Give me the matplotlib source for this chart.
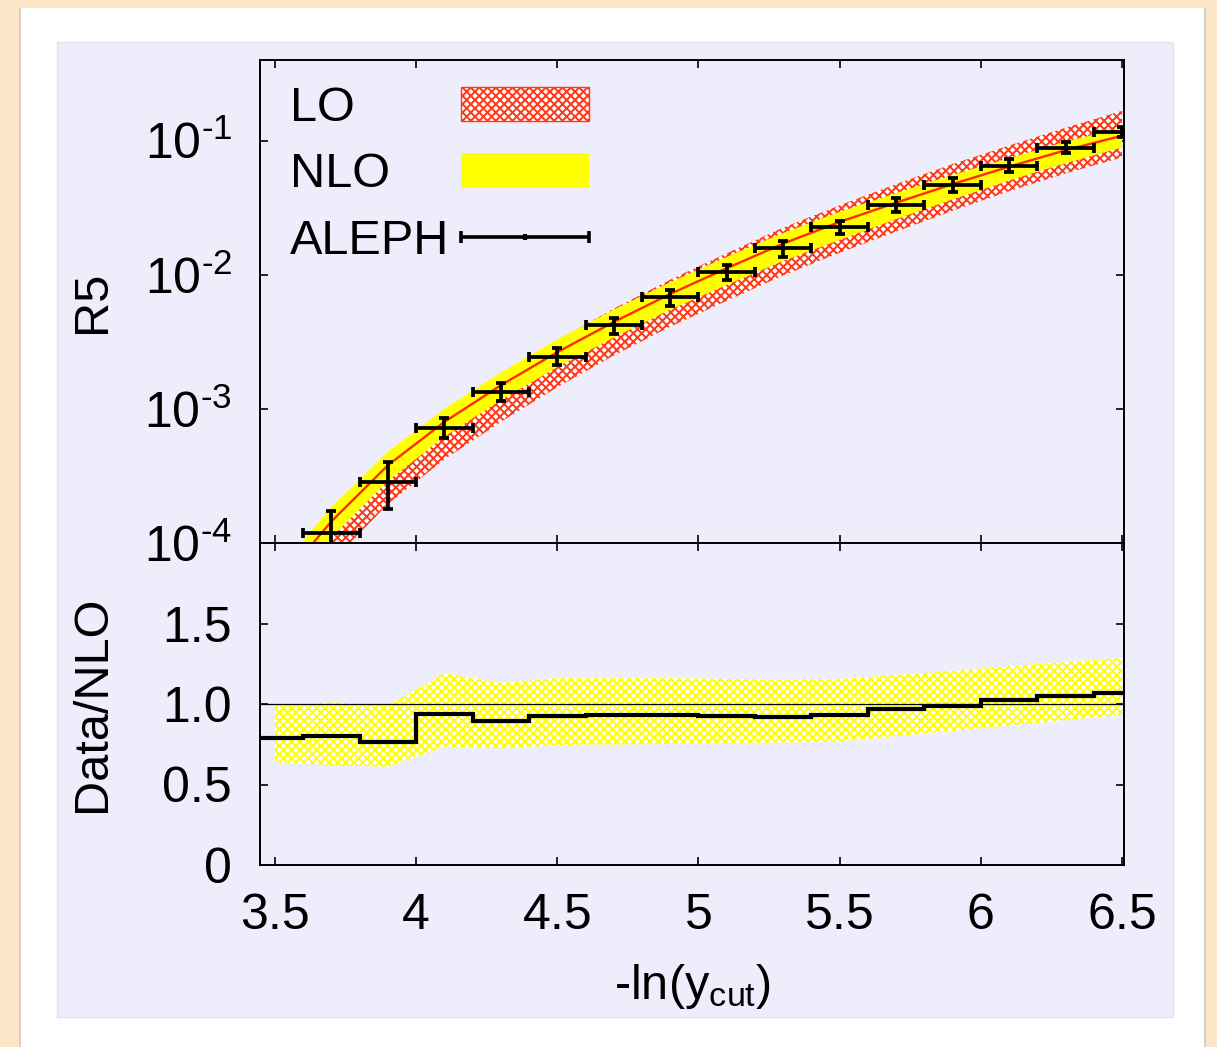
import numpy as np
import matplotlib
matplotlib.use("Agg")
import matplotlib.pyplot as plt
from matplotlib.patches import Rectangle
from matplotlib.ticker import NullLocator

plt.rcParams['font.family'] = ['Liberation Sans', 'DejaVu Sans']
plt.rcParams['mathtext.fontset'] = 'custom'
plt.rcParams['mathtext.rm'] = 'Liberation Sans'
plt.rcParams['mathtext.it'] = 'Liberation Sans:italic'
plt.rcParams['mathtext.bf'] = 'Liberation Sans:bold'
plt.rcParams['hatch.linewidth'] = 1.45

# ---- theory curves on a -ln(ycut) grid ----
x_theory = [3.5, 3.7, 3.9, 4.1, 4.3, 4.5, 4.7, 4.9, 5.1, 5.3, 5.5, 5.7, 5.9, 6.1, 6.3, 6.5]
nlo_central = [4.6e-5, 1.45e-4, 3.8e-4, 8.0e-4, 1.5e-3, 2.65e-3, 4.45e-3, 7.2e-3,
               1.12e-2, 1.71e-2, 2.48e-2, 3.45e-2, 4.75e-2, 6.4e-2, 8.5e-2, 0.109]
nlo_upper = [5.9e-5, 1.85e-4, 4.8e-4, 1.0e-3, 1.87e-3, 3.3e-3, 5.5e-3, 8.8e-3,
             1.36e-2, 2.05e-2, 2.95e-2, 4.07e-2, 5.56e-2, 7.42e-2, 9.86e-2, 0.125]
nlo_lower = [3.5e-5, 1.1e-4, 2.9e-4, 6.2e-4, 1.16e-3, 2.05e-3, 3.4e-3, 5.5e-3,
             8.4e-3, 1.27e-2, 1.82e-2, 2.6e-2, 3.65e-2, 5.05e-2, 6.8e-2, 8.9e-2]
lo_upper = [5.5e-5, 1.7e-4, 4.5e-4, 9.5e-4, 1.8e-3, 3.25e-3, 5.6e-3, 9.2e-3,
            1.45e-2, 2.25e-2, 3.3e-2, 4.75e-2, 6.7e-2, 9.2e-2, 0.125, 0.167]
lo_lower = [2.2e-5, 7.2e-5, 1.95e-4, 4.2e-4, 8.0e-4, 1.45e-3, 2.5e-3, 4.1e-3,
            6.4e-3, 9.9e-3, 1.46e-2, 2.1e-2, 3.0e-2, 4.2e-2, 5.7e-2, 7.5e-2]

# ---- ALEPH five-jet rate ----
x_data = [3.7, 3.9, 4.1, 4.3, 4.5, 4.7, 4.9, 5.1, 5.3, 5.5, 5.7, 5.9, 6.1, 6.3, 6.5]
bin_halfwidth = [0.1] * 15
r5_data = [1.19e-4, 2.85e-4, 7.2e-4, 1.34e-3, 2.45e-3, 4.25e-3, 6.8e-3, 1.045e-2,
           1.58e-2, 2.26e-2, 3.33e-2, 4.68e-2, 6.52e-2, 8.9e-2, 0.117]
r5_high = [1.72e-4, 4.03e-4, 8.5e-4, 1.56e-3, 2.86e-3, 4.75e-3, 7.73e-3, 1.19e-2,
           1.80e-2, 2.53e-2, 3.75e-2, 5.27e-2, 7.26e-2, 9.84e-2, 0.127]
r5_low = [0.8e-4, 1.78e-4, 6.1e-4, 1.15e-3, 2.11e-3, 3.64e-3, 5.9e-3, 9.2e-3,
          1.35e-2, 2.0e-2, 2.95e-2, 4.17e-2, 5.85e-2, 8.09e-2, 0.106]

# ---- Data/NLO ratio ----
ratio_edges = [3.4, 3.6, 3.8, 4.0, 4.2, 4.4, 4.6, 4.8, 5.0, 5.2, 5.4, 5.6, 5.8, 6.0, 6.2, 6.4, 6.6]
ratio_values = [0.79, 0.80, 0.765, 0.94, 0.895, 0.925, 0.93, 0.93, 0.925, 0.92,
                0.933, 0.968, 0.99, 1.027, 1.052, 1.068]
ratio_band_x = [3.5, 3.7, 3.9, 4.1, 4.3, 4.5, 4.7, 4.9, 5.1, 5.3, 5.5, 5.7, 5.9, 6.1, 6.3, 6.5]
ratio_band_up = [0.99, 1.01, 0.99, 1.19, 1.13, 1.16, 1.16, 1.16, 1.155, 1.152,
                 1.155, 1.18, 1.205, 1.235, 1.26, 1.287]
ratio_band_low = [0.64, 0.62, 0.61, 0.735, 0.725, 0.745, 0.748, 0.752, 0.757, 0.761,
                  0.768, 0.80, 0.833, 0.866, 0.90, 0.933]

x_ticks = [3.5, 4, 4.5, 5, 5.5, 6, 6.5]
x_tick_labels = ['3.5', '4', '4.5', '5', '5.5', '6', '6.5']
r5_ticks = [1e-4, 1e-3, 1e-2, 1e-1]
r5_tick_labels = [r'$10^{\text{-}4}$', r'$10^{\text{-}3}$', r'$10^{\text{-}2}$',
                  r'$10^{\text{-}1}$']
ratio_ticks = [0, 0.5, 1.0, 1.5]
ratio_tick_labels = ['0', '0.5', '1.0', '1.5']

RED = '#ff3a1a'
LINE_RED = '#ff2a00'
YELLOW = '#ffff00'
LAVENDER = '#ededfc'
FS_TICK = 36
FS_LABEL = 35
FS_LEG = 35

W, H = 1217, 1047
fig = plt.figure(figsize=(W / 100, H / 100), dpi=100, facecolor='#fde6c8')

# slide frame: white card with a lavender panel (kept behind the axes)
frame = [
    Rectangle((19 / W, 0), 2 / W, (H - 8) / H, facecolor='#d9cfc2', edgecolor='none'),
    Rectangle((21 / W, 0), (1204 - 21) / W, (H - 8) / H, facecolor='white', edgecolor='none'),
    Rectangle((1204 / W, 0), 2 / W, (H - 8) / H, facecolor='#cfcfcf', edgecolor='none'),
    Rectangle((57 / W, (H - 1017) / H), (1173 - 57) / W, (1017 - 42) / H,
              facecolor=LAVENDER, edgecolor='#e2e2ee', linewidth=1),
]
for r in frame:
    r.set_transform(fig.transFigure)
    r.set_zorder(-10)
    fig.add_artist(r)

left, right = 260 / W, 1124 / W
ax1 = fig.add_axes([left, 1 - 543 / H, right - left, (543 - 60) / H])
ax2 = fig.add_axes([left, 1 - 865 / H, right - left, (865 - 543) / H], sharex=ax1)

for ax in (ax1, ax2):
    ax.set_facecolor(LAVENDER)
    for s in ax.spines.values():
        s.set_linewidth(1.4)
    ax.tick_params(which='both', direction='in', top=True, right=True, length=6, width=1.2,
                   labelsize=FS_TICK)

# --- upper panel ---
ax1.fill_between(x_theory, lo_lower, lo_upper, facecolor='white', edgecolor=RED,
                 hatch='xxxx', linewidth=0, zorder=1)
ax1.fill_between(x_theory, nlo_lower, nlo_upper, facecolor=YELLOW, edgecolor='none',
                 linewidth=0, zorder=2)
ax1.plot(x_theory, nlo_central, color=LINE_RED, linewidth=1.7, zorder=3)
yerr = [np.array(r5_data) - np.array(r5_low), np.array(r5_high) - np.array(r5_data)]
ax1.errorbar(x_data, r5_data, xerr=bin_halfwidth, yerr=yerr, fmt='none', ecolor='black',
             elinewidth=2.7, capsize=3.8, capthick=2.7, zorder=4)

ax1.set_yscale('log')
ax1.set_ylim(1e-4, 0.4)
ax1.set_xlim(3.447, 6.507)
ax1.set_yticks(r5_ticks, r5_tick_labels)
ax1.yaxis.set_minor_locator(NullLocator())
ax1.tick_params(axis='x', labelbottom=False)
ax1.tick_params(axis='y', pad=20)
ax1.set_ylabel('R5', fontsize=FS_LABEL)
ax1.yaxis.set_label_coords(-0.168, 0.5)

# legend drawn in axes coordinates
tx = 0.035
hx0, hx1 = 0.2326, 0.3804
ax1.text(tx, 0.8737, 'LO', fontsize=FS_LEG, va='baseline', ha='left', transform=ax1.transAxes)
ax1.text(tx, 0.737, 'NLO', fontsize=FS_LEG, va='baseline', ha='left', transform=ax1.transAxes)
ax1.text(tx, 0.598, 'ALEPH', fontsize=FS_LEG, va='baseline', ha='left', transform=ax1.transAxes)
ax1.add_patch(Rectangle((hx0, 0.8743), hx1 - hx0, 0.0704, transform=ax1.transAxes,
                        facecolor='white', edgecolor=RED, hatch='xxxx', linewidth=1.0))
ax1.add_patch(Rectangle((hx0, 0.7356), hx1 - hx0, 0.0712, transform=ax1.transAxes,
                        facecolor=YELLOW, edgecolor='none'))
ax1.plot([hx0, hx1], [0.6329, 0.6329], transform=ax1.transAxes, color='black',
         linewidth=2.6, solid_capstyle='butt')
ax1.plot([hx0, hx1], [0.6329, 0.6329], transform=ax1.transAxes, linestyle='none',
         marker='|', markersize=8, markeredgewidth=2.6, color='black')
ax1.plot([(hx0 + hx1) / 2], [0.6329], transform=ax1.transAxes, linestyle='none',
         marker='|', markersize=5, markeredgewidth=3, color='black')

# --- ratio panel ---
ax2.fill_between(ratio_band_x, ratio_band_low, ratio_band_up, facecolor='white',
                 edgecolor=YELLOW, hatch='xxxx', linewidth=0, zorder=1)
ax2.axhline(1.0, color='black', linewidth=0.9, zorder=2)
ax2.stairs(ratio_values, ratio_edges, color='black', linewidth=3.0, baseline=None, zorder=3)
ax2.set_ylim(0, 2.0)
ax2.set_yticks(ratio_ticks, ratio_tick_labels)
ax2.set_xticks(x_ticks, x_tick_labels)
ax2.tick_params(axis='x', pad=20.5)
ax2.tick_params(axis='y', pad=20)
ax2.set_ylabel('Data/NLO', fontsize=FS_LABEL)
ax2.yaxis.set_label_coords(-0.168, 0.5)
ax2.set_xlabel('-ln(y$_{\\mathregular{cut}}$)', fontsize=FS_LABEL)
ax2.xaxis.set_label_coords(0.5, -0.30)

fig.savefig('out.png', dpi=100, facecolor=fig.get_facecolor())
